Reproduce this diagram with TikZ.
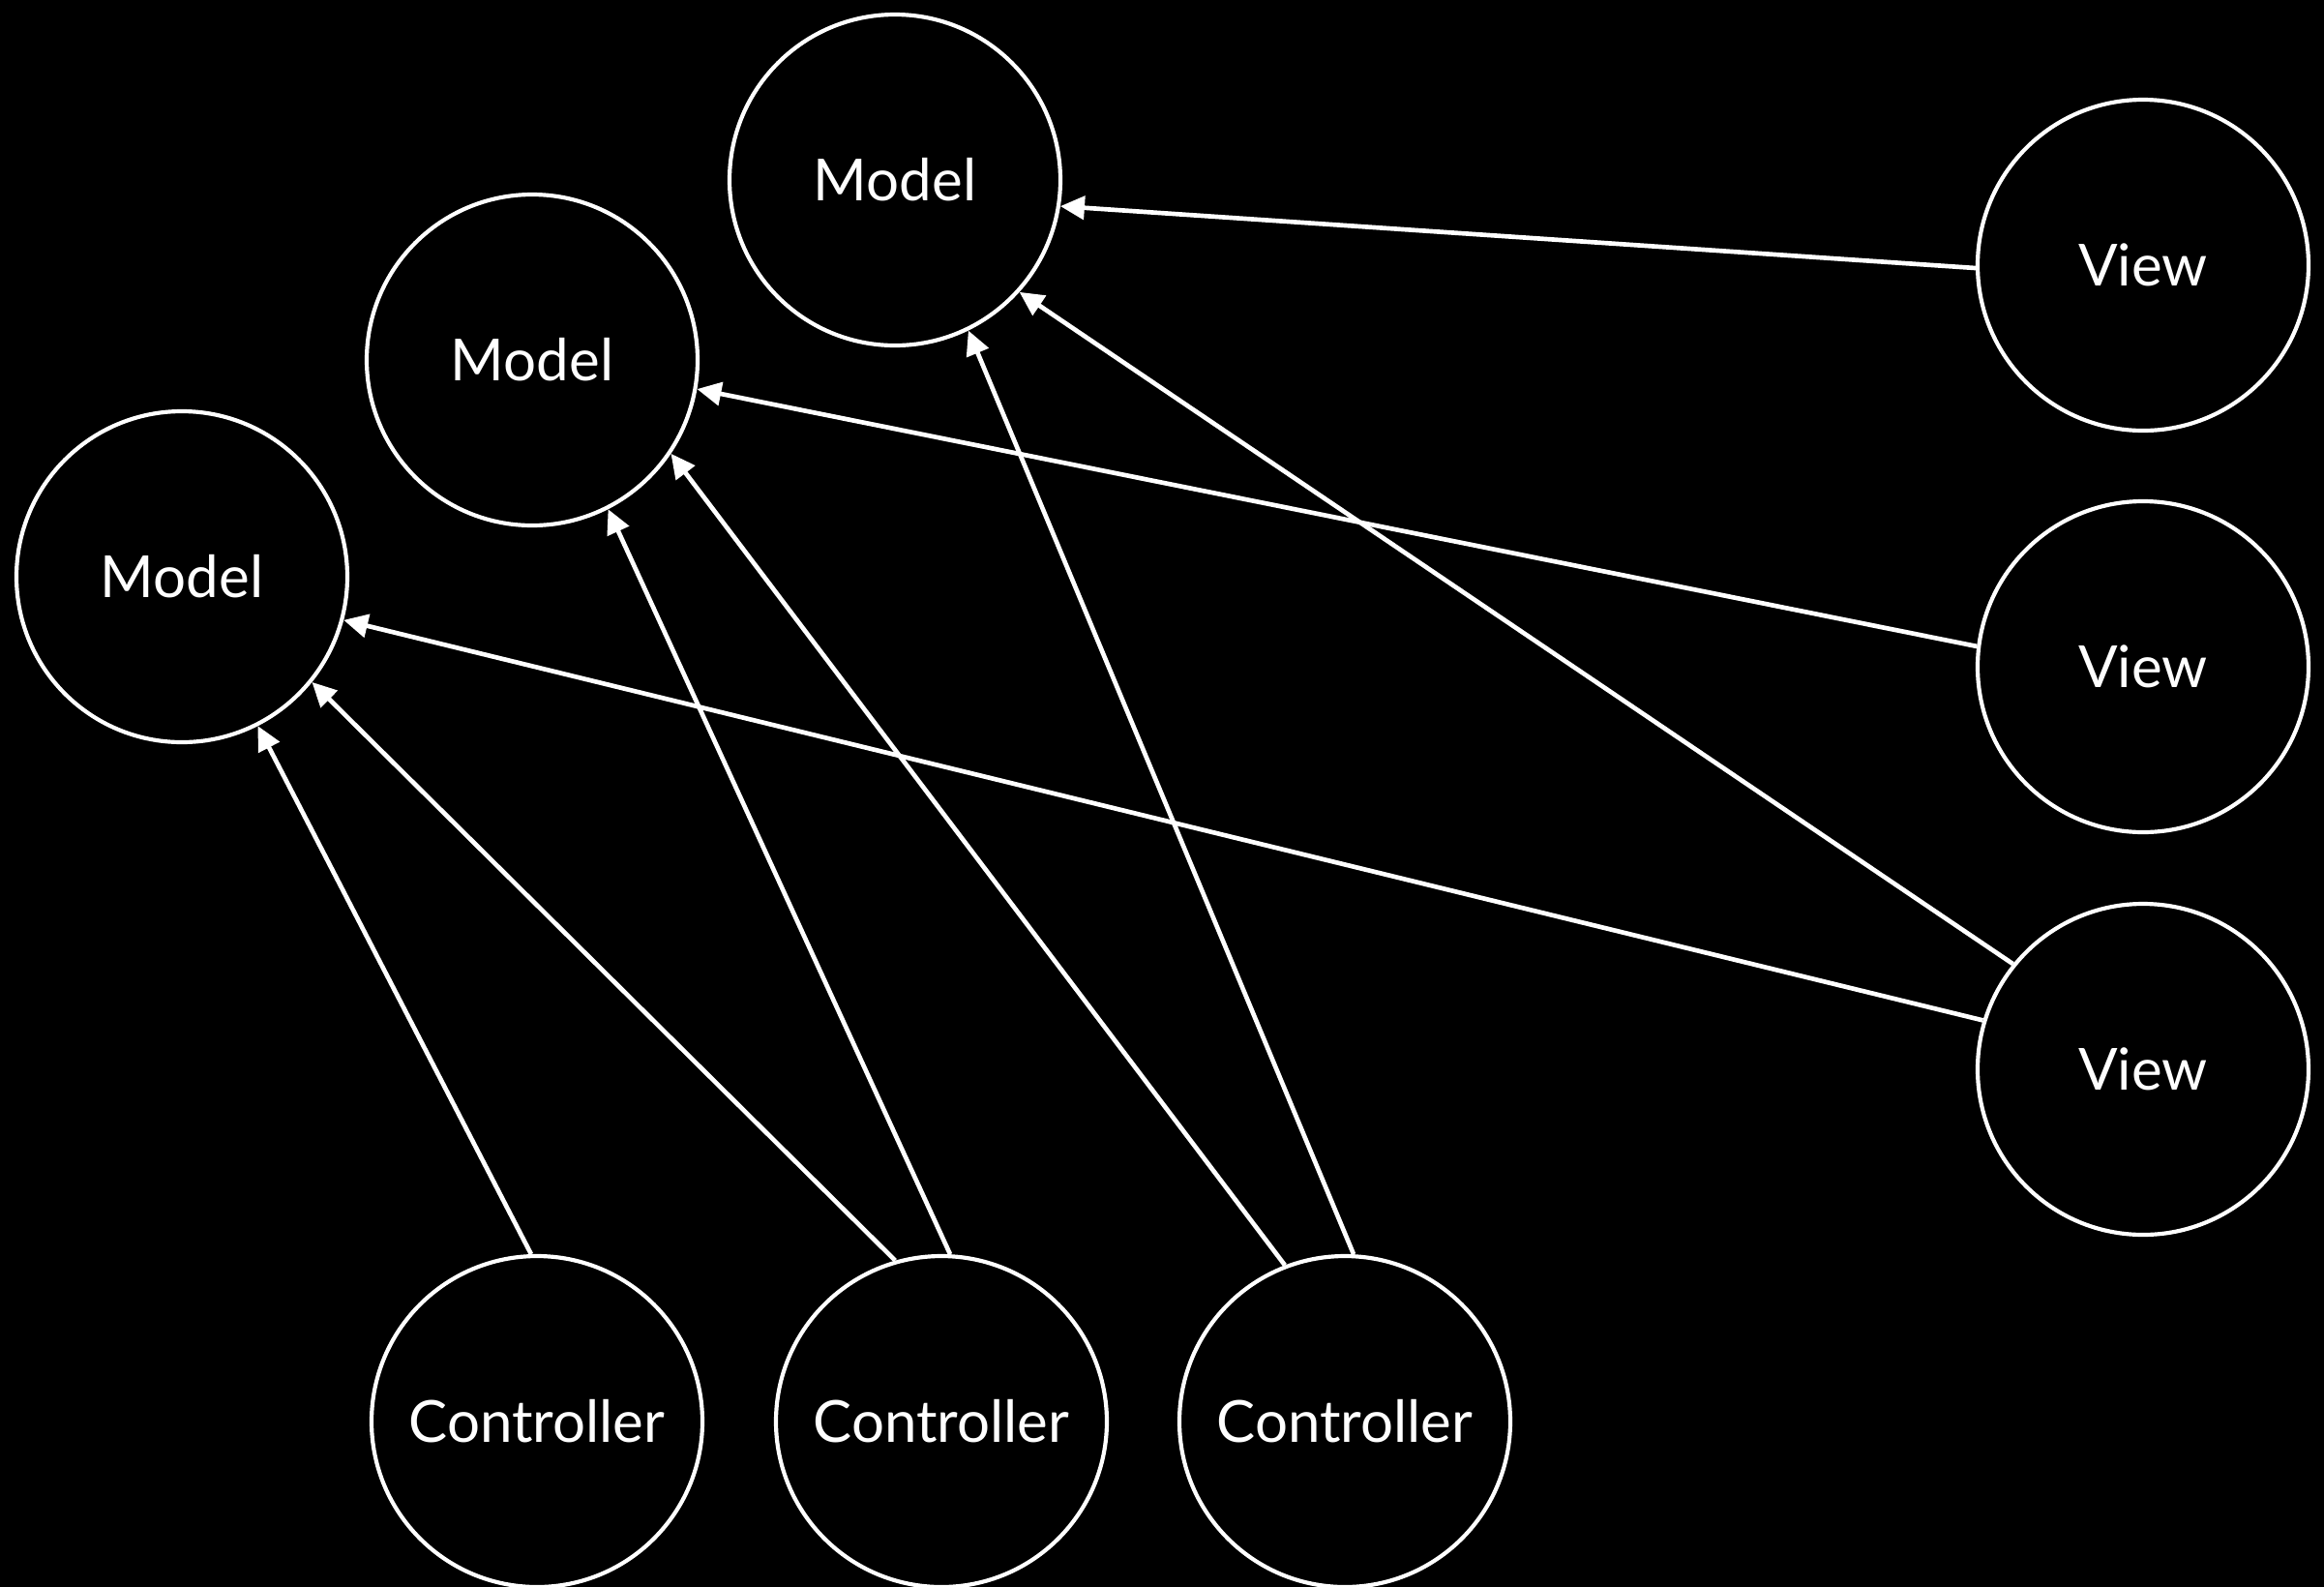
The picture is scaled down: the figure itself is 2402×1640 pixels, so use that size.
\documentclass[tikz,border=0pt]{standalone}
\usepackage{fontspec}
\setmainfont{Lato}
\usetikzlibrary{arrows.meta}
\begin{document}
\begin{tikzpicture}[x=0.3pt,y=-0.3pt,
  bubble/.style={circle,draw=white,line width=1.25pt,minimum size=102.6pt,inner sep=0pt,
    text=white,font=\fontsize{18}{20}\selectfont},
  link/.style={draw=white,line width=1.4pt,-{Triangle[length=7.5pt,width=7.2pt]}}]
\fill[black] (0,0) rectangle (2402,1640);
\useasboundingbox (0,0) rectangle (2402,1640);
\node[bubble] (m1) at (925,186) {Model};
\node[bubble] (m2) at (550,372) {Model};
\node[bubble] (m3) at (188,596) {Model};
\node[bubble] (v1) at (2215,274) {View};
\node[bubble] (v2) at (2215,689) {View};
\node[bubble] (v3) at (2215,1105) {View};
\node[bubble] (c1) at (555,1469) {Controller};
\node[bubble] (c2) at (973,1469) {Controller};
\node[bubble] (c3) at (1390,1469) {Controller};
\draw[link] (v1.181) -- (m1.-9);
\draw[link] (v2.173.3) -- (m2.-10.9);
\draw[link] (v3.163.4) -- (m3.-15.1);
\draw[link] (v3.141.3) -- (m1.-42.4);
\draw[link] (c1.92.3) -- (m3.-63.7);
\draw[link] (c2.106.6) -- (m3.-39.5);
\draw[link] (c2.87.7) -- (m2.-63.3);
\draw[link] (c3.111.7) -- (m2.-34.6);
\draw[link] (c3.87.7) -- (m1.-64.8);
\end{tikzpicture}
\end{document}
